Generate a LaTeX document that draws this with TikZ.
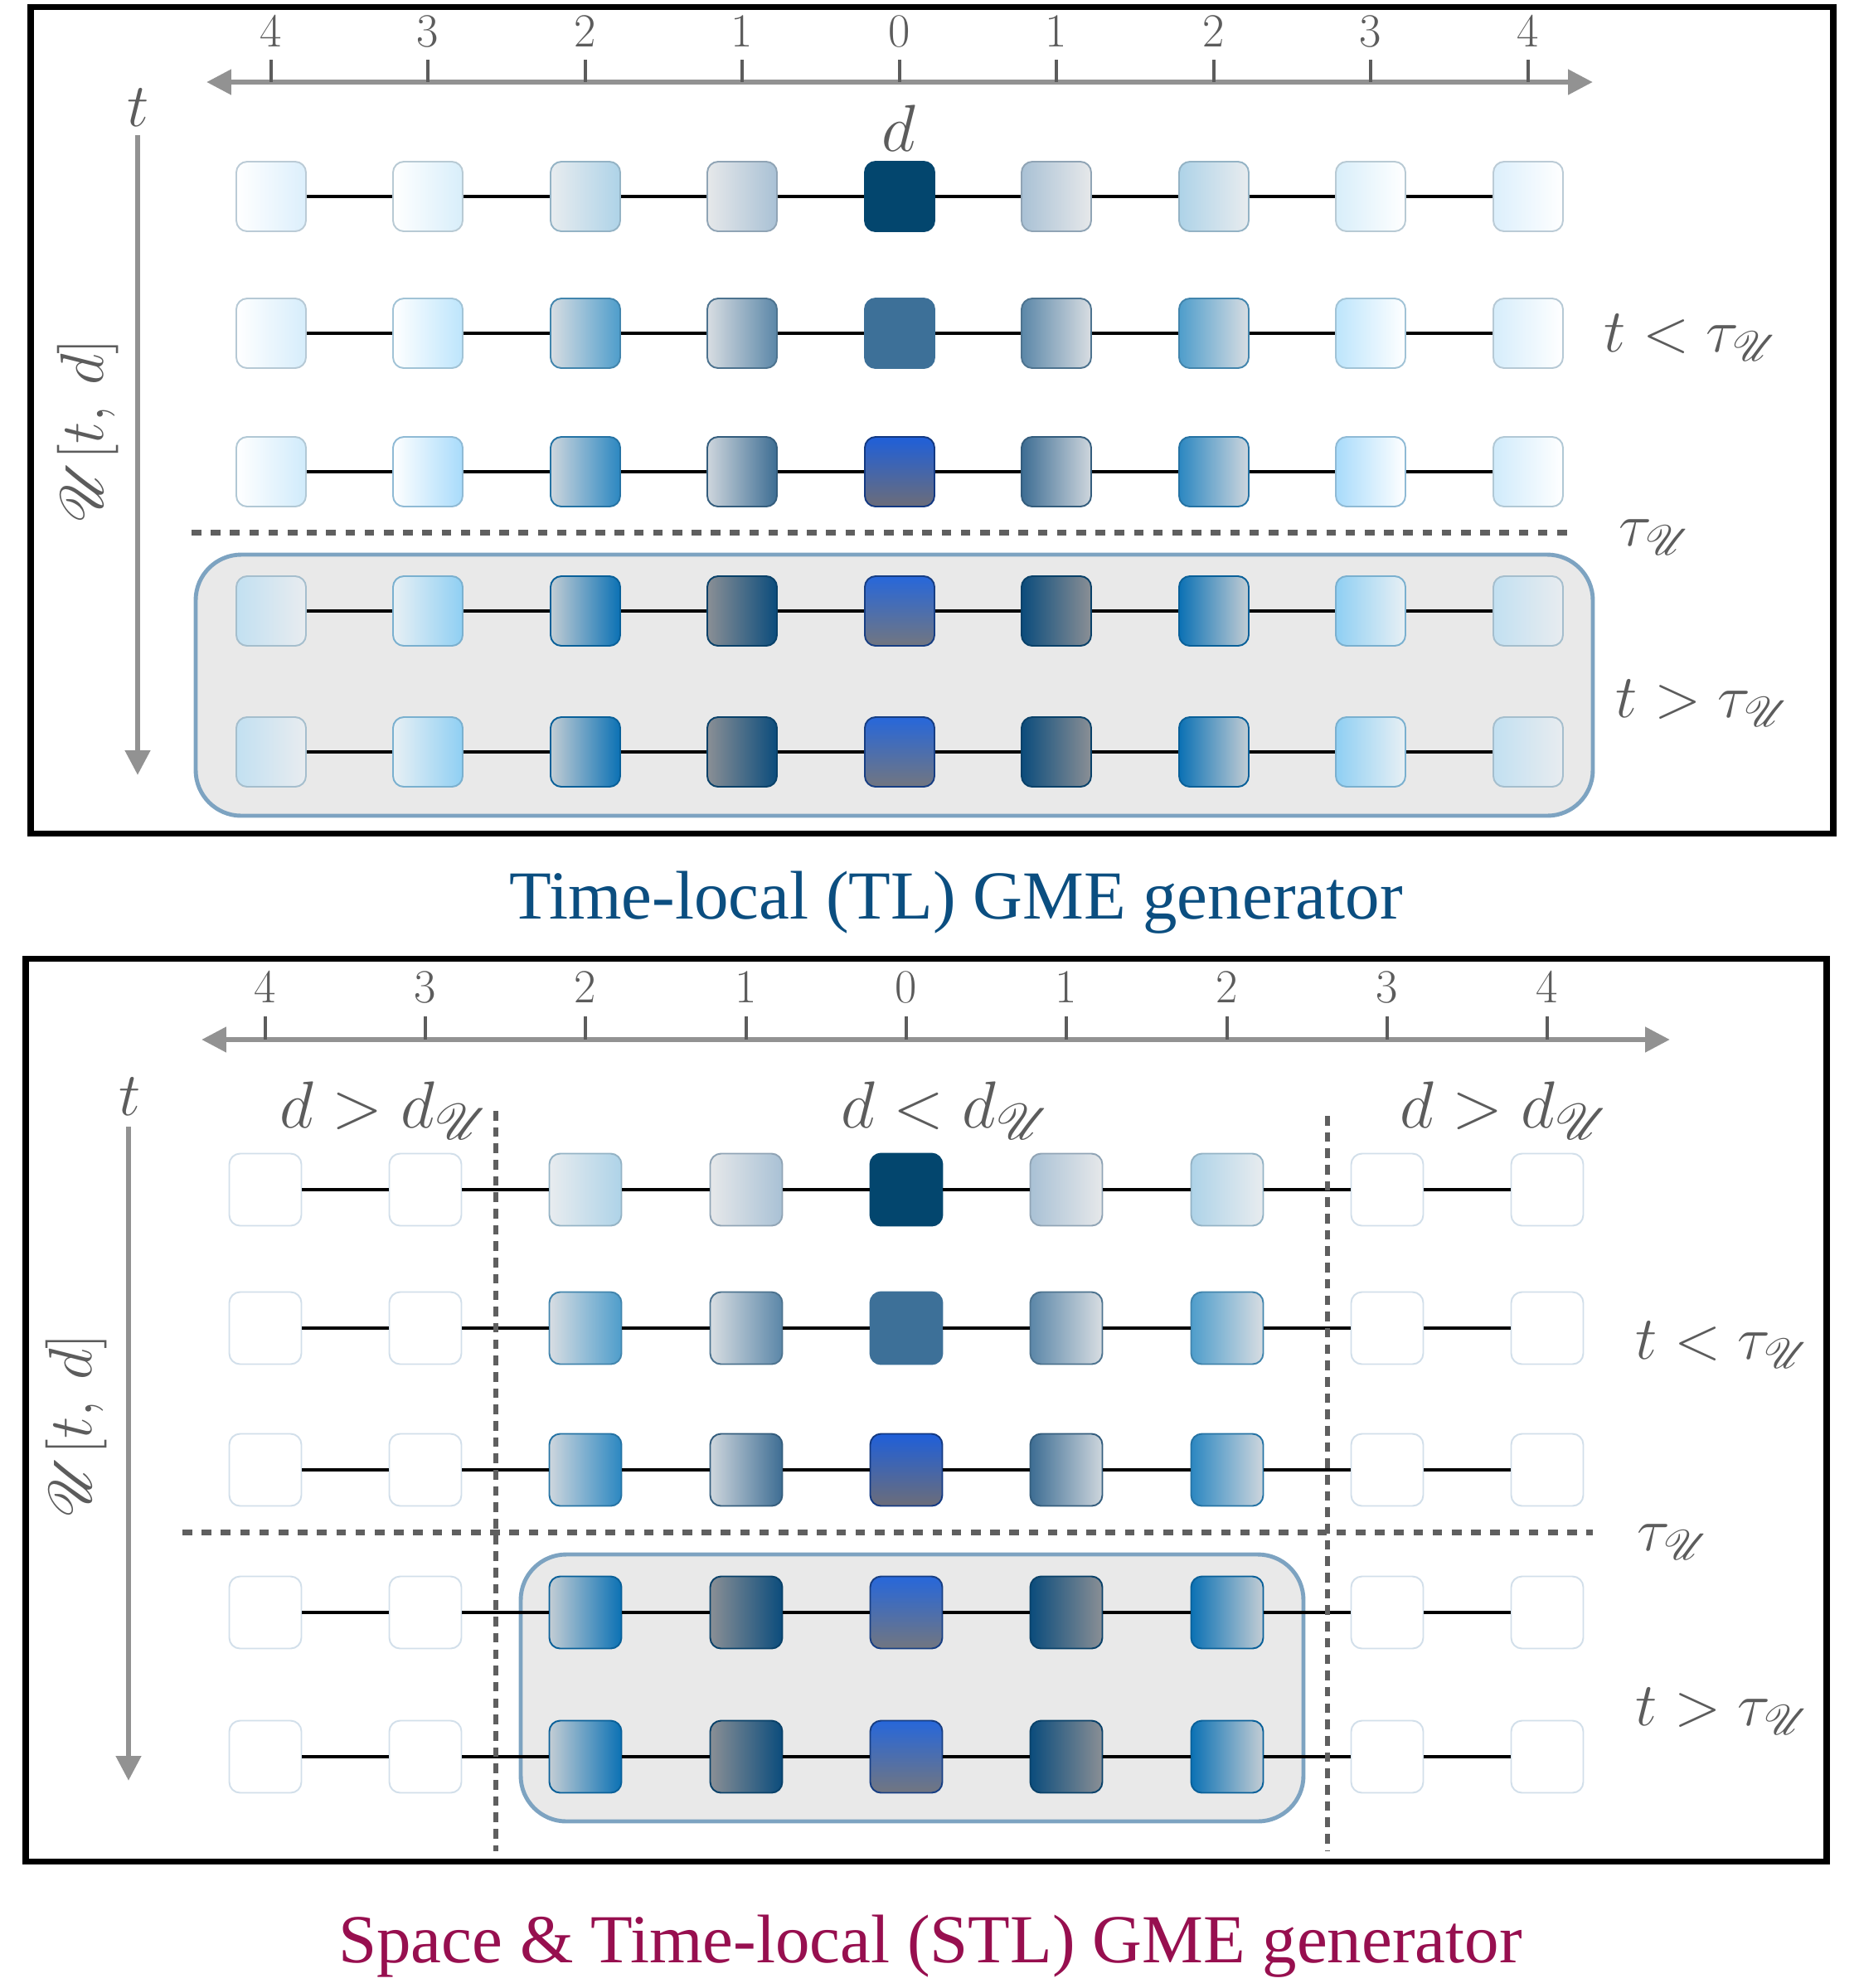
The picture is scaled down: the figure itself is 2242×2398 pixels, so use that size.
\RequirePackage{fix-cm}
\documentclass[tikz,border=0pt]{standalone}
\usepackage{fontspec}
\newfontfamily\titlefont{Liberation Serif}
\usepackage{amsmath}
\usepackage{mathrsfs}
\usepackage{xcolor}
\usepackage{tikz}
\usetikzlibrary{arrows.meta}

\definecolor{axisgray}{HTML}{929292}
\definecolor{txtgray}{HTML}{5C5C5C}
\definecolor{dashgray}{HTML}{5F5F5F}
\definecolor{boxfill}{HTML}{E9E9E9}
\definecolor{boxline}{HTML}{7DA3C1}
\definecolor{blankline}{HTML}{D2DFEA}
\definecolor{tlblue}{HTML}{0B4E80}
\definecolor{stlred}{HTML}{970F4F}
% t = 0
\definecolor{a4}{HTML}{DCEFFC}
\definecolor{a3}{HTML}{D8EEFA}
\definecolor{a2g}{HTML}{E8ECEF}
\definecolor{a2}{HTML}{AED3E8}
\definecolor{a1g}{HTML}{E6E8EA}
\definecolor{a1}{HTML}{A9C1D5}
\definecolor{a0}{HTML}{03466E}
% t = 1
\definecolor{b4}{HTML}{D6EDFB}
\definecolor{b3}{HTML}{BDE5FC}
\definecolor{b2g}{HTML}{D8DDE2}
\definecolor{b2}{HTML}{4E9DCB}
\definecolor{b1}{HTML}{5B87A8}
\definecolor{b0}{HTML}{3D7098}
% t = 2
\definecolor{c4}{HTML}{D0EBFB}
\definecolor{c3}{HTML}{A8DBFB}
\definecolor{c2g}{HTML}{CED6DD}
\definecolor{c2}{HTML}{2B87C1}
\definecolor{c1}{HTML}{3D6D93}
\definecolor{c0t}{HTML}{1F5FD9}
\definecolor{c0b}{HTML}{6C6D79}
% t > tau
\definecolor{d4}{HTML}{C2E0F1}
\definecolor{d4g}{HTML}{E8ECF0}
\definecolor{d3g}{HTML}{E8F0F4}
\definecolor{d3}{HTML}{8FCFF3}
\definecolor{d2g}{HTML}{C3CDD4}
\definecolor{d2}{HTML}{0B71B4}
\definecolor{d1g}{HTML}{8A8F95}
\definecolor{d1}{HTML}{0B4C7C}
\definecolor{d0t}{HTML}{2767DA}
\definecolor{d0b}{HTML}{727680}

\tikzset{
  frame/.style={draw=black, line width=2pt},
  axis/.style={draw=axisgray, line width=1.9pt, >={Triangle[length=8.5pt,width=8.3pt]}},
  tick/.style={draw=txtgray, line width=0.9pt},
  num/.style={font=\fontsize{16.3}{19}\selectfont, text=txtgray, inner sep=0pt, anchor=base},
  mlab/.style={font=\fontsize{21}{25}\selectfont, text=txtgray, inner sep=0pt, anchor=base west},
  dlab/.style={font=\fontsize{22.8}{27}\selectfont, text=txtgray, inner sep=0pt, anchor=base west},
  title/.style={font=\titlefont\fontsize{23.6}{28}\selectfont, inner sep=0pt, anchor=base},
  tauline/.style={draw=dashgray, line width=2pt, dash pattern=on 3.3pt off 3.3pt},
  dline/.style={draw=dashgray, line width=1.9pt, dash pattern=on 3.3pt off 2.3pt},
  panelbox/.style={draw=boxline, fill=boxfill, line width=1.4pt, rounded corners=5.5mm},
  sq/.style={rounded corners=1.3mm, minimum size=8.4mm, inner sep=0pt, line width=0.55pt},
  sqb/.style={sq, minimum size=8.7mm},
  gl/.style 2 args={left color=#1, right color=#2, draw=#2!85!black},
  gr/.style 2 args={left color=#1, right color=#2, draw=#1!85!black},
  gv/.style 2 args={top color=#1, bottom color=#2, draw=#1!60!black},
  gs/.style={fill=#1, draw=#1},
  blank/.style={fill=white, draw=blankline},
  link/.style={draw=black, line width=1.25pt}
}

\begin{document}
\begin{tikzpicture}[x=0.1mm, y=-0.1mm]
\useasboundingbox (0,0) rectangle (2242,2398);

% upper panel: TL generator
\draw[frame] (37,8) rectangle (2211,1005);
\draw[axis, <->] (249,99) -- (1921,99);
\draw[tick] (327,72) -- ++(0,27) (516,72) -- ++(0,27) (706,72) -- ++(0,27)
  (895,72) -- ++(0,27) (1085,72) -- ++(0,27) (1274,72) -- ++(0,27)
  (1464,72) -- ++(0,27) (1653,72) -- ++(0,27) (1843,72) -- ++(0,27);
\node[num] (ta) at (327,56) {4};
\node[num] (tb) at (516,56) {3};
\node[num] (tc) at (706,56) {2};
\node[num] (td) at (895,56) {1};
\node[num] (te) at (1085,56) {0};
\node[num] (tf) at (1274,56) {1};
\node[num] (tg) at (1464,56) {2};
\node[num] (th) at (1653,56) {3};
\node[num] (ti) at (1843,56) {4};
\draw[axis, ->] (166,163) -- (166,935);
\node[mlab, anchor=base] (tu) at (167,152) {$t$};
\node[mlab, anchor=center, rotate=90] (uu) at (106,520) {$\mathscr{U}[t,\,d]$};
\node[dlab, anchor=base] (du) at (1084,182) {$d$};
\draw[tauline] (231,642) -- (1894,642);
\draw[panelbox] (236,669) rectangle (1921,984);

\node[sq, gl={white}{a4}] (u1a) at (327,237) {};
\node[sq, gl={white}{a3}] (u1b) at (516,237) {};
\node[sq, gl={a2g}{a2}] (u1c) at (706,237) {};
\node[sq, gl={a1g}{a1}] (u1d) at (895,237) {};
\node[sq, gs=a0] (u1e) at (1085,237) {};
\node[sq, gr={a1}{a1g}] (u1f) at (1274,237) {};
\node[sq, gr={a2}{a2g}] (u1g) at (1464,237) {};
\node[sq, gr={a3}{white}] (u1h) at (1653,237) {};
\node[sq, gr={a4}{white}] (u1i) at (1843,237) {};

\node[sq, gl={white}{b4}] (u2a) at (327,402) {};
\node[sq, gl={white}{b3}] (u2b) at (516,402) {};
\node[sq, gl={b2g}{b2}] (u2c) at (706,402) {};
\node[sq, gl={b2g}{b1}] (u2d) at (895,402) {};
\node[sq, gs=b0] (u2e) at (1085,402) {};
\node[sq, gr={b1}{b2g}] (u2f) at (1274,402) {};
\node[sq, gr={b2}{b2g}] (u2g) at (1464,402) {};
\node[sq, gr={b3}{white}] (u2h) at (1653,402) {};
\node[sq, gr={b4}{white}] (u2i) at (1843,402) {};

\node[sq, gl={white}{c4}] (u3a) at (327,569) {};
\node[sq, gl={white}{c3}] (u3b) at (516,569) {};
\node[sq, gl={c2g}{c2}] (u3c) at (706,569) {};
\node[sq, gl={c2g}{c1}] (u3d) at (895,569) {};
\node[sq, gv={c0t}{c0b}] (u3e) at (1085,569) {};
\node[sq, gr={c1}{c2g}] (u3f) at (1274,569) {};
\node[sq, gr={c2}{c2g}] (u3g) at (1464,569) {};
\node[sq, gr={c3}{white}] (u3h) at (1653,569) {};
\node[sq, gr={c4}{white}] (u3i) at (1843,569) {};

\node[sq, gr={d4}{d4g}] (u4a) at (327,737) {};
\node[sq, gl={d3g}{d3}] (u4b) at (516,737) {};
\node[sq, gl={d2g}{d2}] (u4c) at (706,737) {};
\node[sq, gl={d1g}{d1}] (u4d) at (895,737) {};
\node[sq, gv={d0t}{d0b}] (u4e) at (1085,737) {};
\node[sq, gr={d1}{d1g}] (u4f) at (1274,737) {};
\node[sq, gr={d2}{d2g}] (u4g) at (1464,737) {};
\node[sq, gr={d3}{d3g}] (u4h) at (1653,737) {};
\node[sq, gr={d4}{d4g}] (u4i) at (1843,737) {};

\node[sq, gr={d4}{d4g}] (u5a) at (327,907) {};
\node[sq, gl={d3g}{d3}] (u5b) at (516,907) {};
\node[sq, gl={d2g}{d2}] (u5c) at (706,907) {};
\node[sq, gl={d1g}{d1}] (u5d) at (895,907) {};
\node[sq, gv={d0t}{d0b}] (u5e) at (1085,907) {};
\node[sq, gr={d1}{d1g}] (u5f) at (1274,907) {};
\node[sq, gr={d2}{d2g}] (u5g) at (1464,907) {};
\node[sq, gr={d3}{d3g}] (u5h) at (1653,907) {};
\node[sq, gr={d4}{d4g}] (u5i) at (1843,907) {};

\draw[link] (u1a)--(u1b) (u1b)--(u1c) (u1c)--(u1d) (u1d)--(u1e) (u1e)--(u1f) (u1f)--(u1g) (u1g)--(u1h) (u1h)--(u1i);
\draw[link] (u2a)--(u2b) (u2b)--(u2c) (u2c)--(u2d) (u2d)--(u2e) (u2e)--(u2f) (u2f)--(u2g) (u2g)--(u2h) (u2h)--(u2i);
\draw[link] (u3a)--(u3b) (u3b)--(u3c) (u3c)--(u3d) (u3d)--(u3e) (u3e)--(u3f) (u3f)--(u3g) (u3g)--(u3h) (u3h)--(u3i);
\draw[link] (u4a)--(u4b) (u4b)--(u4c) (u4c)--(u4d) (u4d)--(u4e) (u4e)--(u4f) (u4f)--(u4g) (u4g)--(u4h) (u4h)--(u4i);
\draw[link] (u5a)--(u5b) (u5b)--(u5c) (u5c)--(u5d) (u5d)--(u5e) (u5e)--(u5f) (u5f)--(u5g) (u5g)--(u5h) (u5h)--(u5i);

\node[mlab] (ltu) at (1934,424) {$t<\tau_{\mathscr{U}}$};
\node[mlab] (tauu) at (1952,658) {$\tau_{\mathscr{U}}$};
\node[mlab] (gtu) at (1948,865) {$t>\tau_{\mathscr{U}}$};
\node[title, text=tlblue] (titu) at (1153,1108) {Time-local (TL) GME generator};

% lower panel: STL generator
\draw[frame] (31,1156) rectangle (2203,2245);
\draw[axis, <->] (243,1254) -- (2014,1254);
\draw[tick] (320,1226) -- ++(0,28) (513,1226) -- ++(0,28) (706,1226) -- ++(0,28)
  (900,1226) -- ++(0,28) (1093,1226) -- ++(0,28) (1286,1226) -- ++(0,28)
  (1480,1226) -- ++(0,28) (1673,1226) -- ++(0,28) (1866,1226) -- ++(0,28);
\node[num] (ba) at (320,1209) {4};
\node[num] (bb) at (513,1209) {3};
\node[num] (bc) at (706,1209) {2};
\node[num] (bd) at (900,1209) {1};
\node[num] (be) at (1093,1209) {0};
\node[num] (bf) at (1286,1209) {1};
\node[num] (bg) at (1480,1209) {2};
\node[num] (bh) at (1673,1209) {3};
\node[num] (bi) at (1866,1209) {4};
\draw[axis, ->] (155,1359) -- (155,2148);
\node[mlab, anchor=base] (tl) at (157,1345) {$t$};
\node[mlab, anchor=center, rotate=90] (ul) at (92,1720) {$\mathscr{U}[t,\,d]$};
\node[dlab] (gdl) at (337,1360) {$d>d_{\mathscr{U}}$};
\node[dlab] (ldl) at (1014,1360) {$d<d_{\mathscr{U}}$};
\node[dlab] (gdr) at (1688,1360) {$d>d_{\mathscr{U}}$};
\draw[tauline] (220,1848) -- (1921,1848);
\draw[panelbox] (628,1875) rectangle (1572,2197);

\node[sqb, blank] (s1a) at (320,1435) {};
\node[sqb, blank] (s1b) at (513,1435) {};
\node[sqb, gl={a2g}{a2}] (s1c) at (706,1435) {};
\node[sqb, gl={a1g}{a1}] (s1d) at (900,1435) {};
\node[sqb, gs=a0] (s1e) at (1093,1435) {};
\node[sqb, gr={a1}{a1g}] (s1f) at (1286,1435) {};
\node[sqb, gr={a2}{a2g}] (s1g) at (1480,1435) {};
\node[sqb, blank] (s1h) at (1673,1435) {};
\node[sqb, blank] (s1i) at (1866,1435) {};

\node[sqb, blank] (s2a) at (320,1602) {};
\node[sqb, blank] (s2b) at (513,1602) {};
\node[sqb, gl={b2g}{b2}] (s2c) at (706,1602) {};
\node[sqb, gl={b2g}{b1}] (s2d) at (900,1602) {};
\node[sqb, gs=b0] (s2e) at (1093,1602) {};
\node[sqb, gr={b1}{b2g}] (s2f) at (1286,1602) {};
\node[sqb, gr={b2}{b2g}] (s2g) at (1480,1602) {};
\node[sqb, blank] (s2h) at (1673,1602) {};
\node[sqb, blank] (s2i) at (1866,1602) {};

\node[sqb, blank] (s3a) at (320,1773) {};
\node[sqb, blank] (s3b) at (513,1773) {};
\node[sqb, gl={c2g}{c2}] (s3c) at (706,1773) {};
\node[sqb, gl={c2g}{c1}] (s3d) at (900,1773) {};
\node[sqb, gv={c0t}{c0b}] (s3e) at (1093,1773) {};
\node[sqb, gr={c1}{c2g}] (s3f) at (1286,1773) {};
\node[sqb, gr={c2}{c2g}] (s3g) at (1480,1773) {};
\node[sqb, blank] (s3h) at (1673,1773) {};
\node[sqb, blank] (s3i) at (1866,1773) {};

\node[sqb, blank] (s4a) at (320,1945) {};
\node[sqb, blank] (s4b) at (513,1945) {};
\node[sqb, gl={d2g}{d2}] (s4c) at (706,1945) {};
\node[sqb, gl={d1g}{d1}] (s4d) at (900,1945) {};
\node[sqb, gv={d0t}{d0b}] (s4e) at (1093,1945) {};
\node[sqb, gr={d1}{d1g}] (s4f) at (1286,1945) {};
\node[sqb, gr={d2}{d2g}] (s4g) at (1480,1945) {};
\node[sqb, blank] (s4h) at (1673,1945) {};
\node[sqb, blank] (s4i) at (1866,1945) {};

\node[sqb, blank] (s5a) at (320,2119) {};
\node[sqb, blank] (s5b) at (513,2119) {};
\node[sqb, gl={d2g}{d2}] (s5c) at (706,2119) {};
\node[sqb, gl={d1g}{d1}] (s5d) at (900,2119) {};
\node[sqb, gv={d0t}{d0b}] (s5e) at (1093,2119) {};
\node[sqb, gr={d1}{d1g}] (s5f) at (1286,2119) {};
\node[sqb, gr={d2}{d2g}] (s5g) at (1480,2119) {};
\node[sqb, blank] (s5h) at (1673,2119) {};
\node[sqb, blank] (s5i) at (1866,2119) {};

\draw[link] (s1a)--(s1b) (s1b)--(s1c) (s1c)--(s1d) (s1d)--(s1e) (s1e)--(s1f) (s1f)--(s1g) (s1g)--(s1h) (s1h)--(s1i);
\draw[link] (s2a)--(s2b) (s2b)--(s2c) (s2c)--(s2d) (s2d)--(s2e) (s2e)--(s2f) (s2f)--(s2g) (s2g)--(s2h) (s2h)--(s2i);
\draw[link] (s3a)--(s3b) (s3b)--(s3c) (s3c)--(s3d) (s3d)--(s3e) (s3e)--(s3f) (s3f)--(s3g) (s3g)--(s3h) (s3h)--(s3i);
\draw[link] (s4a)--(s4b) (s4b)--(s4c) (s4c)--(s4d) (s4d)--(s4e) (s4e)--(s4f) (s4f)--(s4g) (s4g)--(s4h) (s4h)--(s4i);
\draw[link] (s5a)--(s5b) (s5b)--(s5c) (s5c)--(s5d) (s5d)--(s5e) (s5e)--(s5f) (s5f)--(s5g) (s5g)--(s5h) (s5h)--(s5i);

\draw[dline] (598,1340) -- (598,2233);
\draw[dline] (1601,1346) -- (1601,2233);
\node[mlab] (ltl) at (1972,1639) {$t<\tau_{\mathscr{U}}$};
\node[mlab] (taul) at (1974,1870) {$\tau_{\mathscr{U}}$};
\node[mlab] (gtl) at (1972,2081) {$t>\tau_{\mathscr{U}}$};
\node[title, text=stlred] (titl) at (1122,2367) {Space \& Time-local (STL) GME generator};
\end{tikzpicture}
\end{document}
